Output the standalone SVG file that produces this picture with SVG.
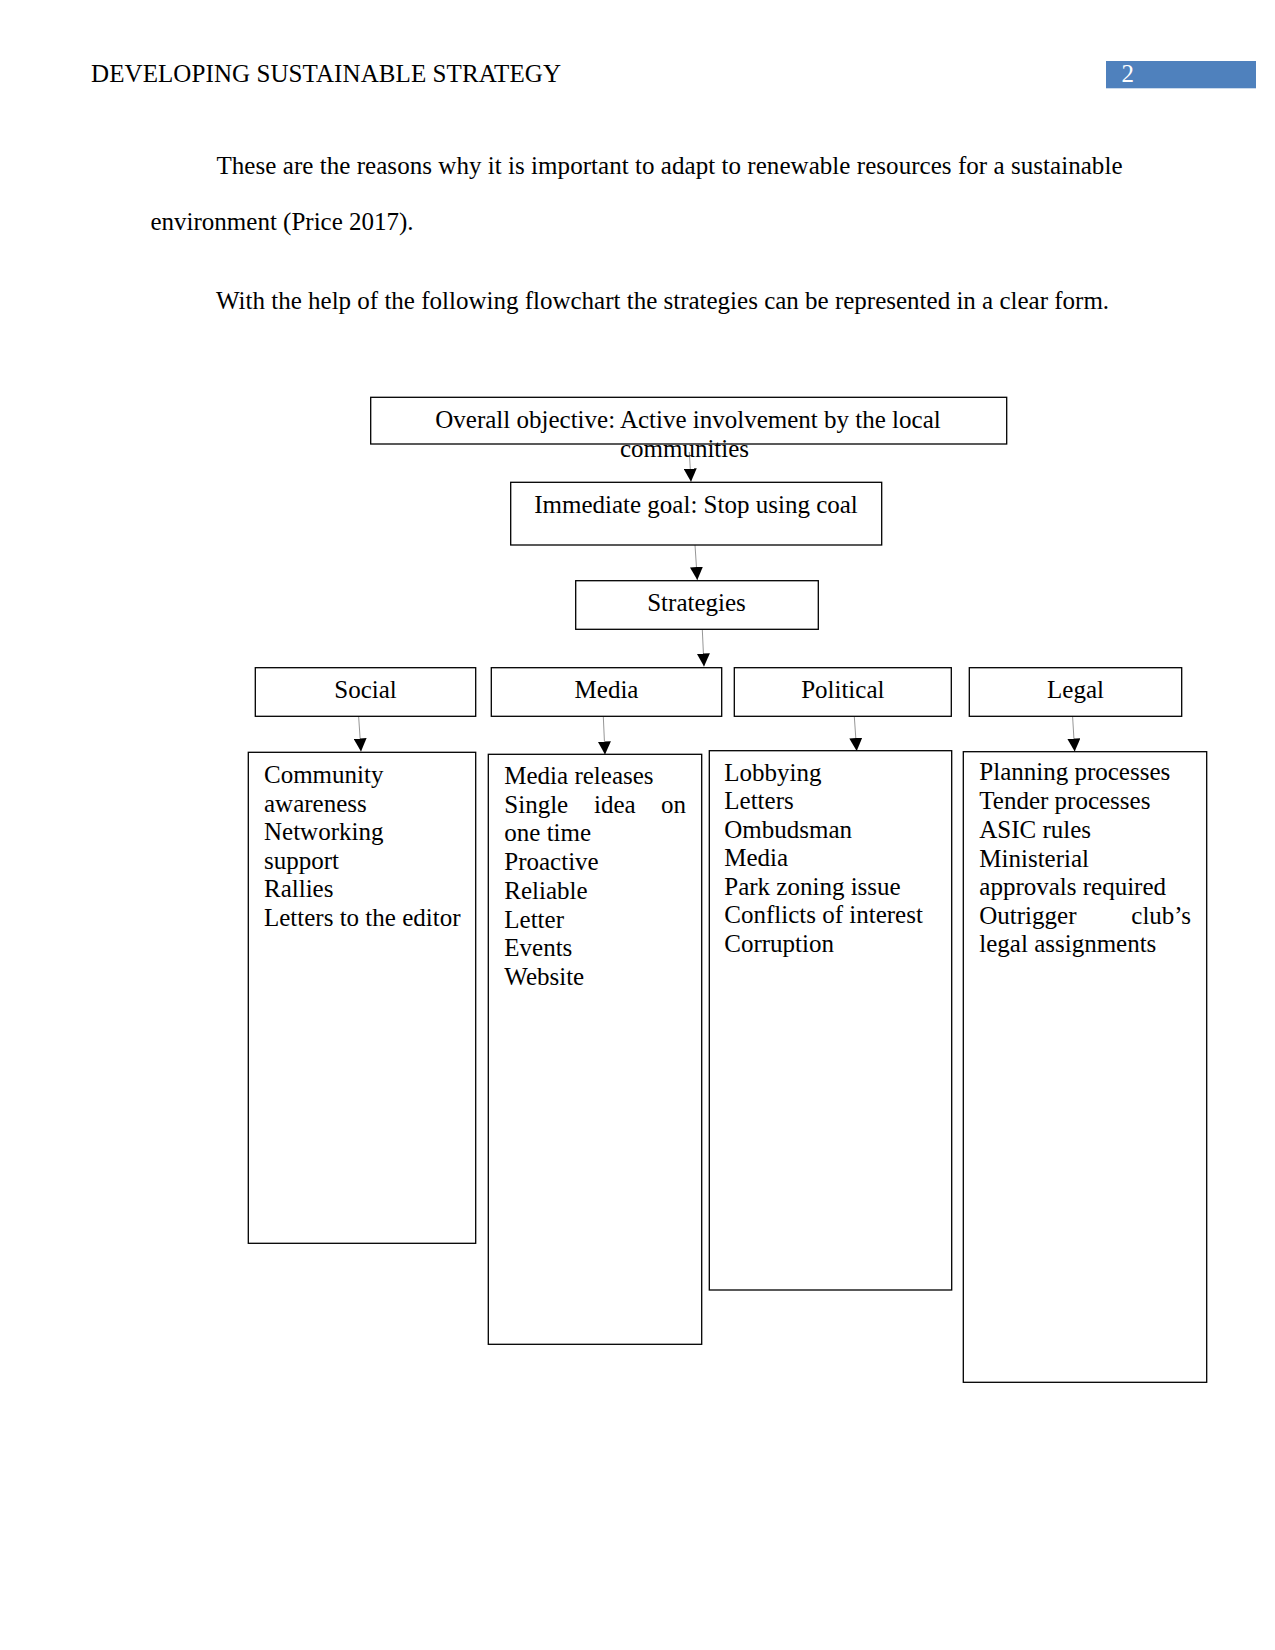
<svg xmlns="http://www.w3.org/2000/svg" width="1275" height="1650" viewBox="0 0 1275 1650">
<style>
text{font-family:"Liberation Serif","Times New Roman",serif;font-size:25px;fill:#000}
.box{fill:#fff;stroke:#000;stroke-width:1.3}
.c{text-anchor:middle}
.e{text-anchor:end}
.conn line{stroke:#8a8a8a;stroke-width:0.9;marker-end:url(#ah)}
</style>
<defs>
<marker id="ah" markerUnits="userSpaceOnUse" markerWidth="13" markerHeight="13" viewBox="0 0 12 12" refX="12" refY="6" orient="auto">
<path d="M0,0 L12,6 L0,12 z" fill="#000"/>
</marker>
</defs>
<rect width="1275" height="1650" fill="#fff"/>
<g id="header">
<text x="91" y="82" textLength="470" lengthAdjust="spacing">DEVELOPING SUSTAINABLE STRATEGY</text>
<rect x="1106" y="61" width="150" height="27.3" fill="#4f81bd"/>
<text x="1121.5" y="82" style="fill:#fff">2</text>
</g>
<g id="body">
<text x="216.5" y="173.5" textLength="906" lengthAdjust="spacing">These are the reasons why it is important to adapt to renewable resources for a sustainable</text>
<text x="150.5" y="230">environment (Price 2017).</text>
<text x="216" y="309">With the help of the following flowchart the strategies can be represented in a clear form.</text>
</g>
<g class="conn" id="connectors">
<line x1="689.3" y1="452" x2="691" y2="481.7"/>
<line x1="695" y1="545" x2="697.3" y2="580"/>
<line x1="702.3" y1="629.5" x2="704" y2="666.5"/>
<line x1="358.3" y1="711.7" x2="361" y2="751.5"/>
<line x1="603.3" y1="716.5" x2="605" y2="754.5"/>
<line x1="854.3" y1="716.5" x2="856.7" y2="751"/>
<line x1="1072.3" y1="711.7" x2="1074.7" y2="751.5"/>
</g>
<g id="overall">
<rect class="box" x="370.7" y="397.3" width="636" height="46.7"/>
<text class="c" x="688" y="428.3">Overall objective: Active involvement by the local</text>
<text class="c" x="684.5" y="457.3">communities</text>
</g>
<g id="immediate">
<rect class="box" x="510.7" y="482.3" width="371" height="62.7"/>
<text class="c" x="696" y="512.5">Immediate goal: Stop using coal</text>
</g>
<g id="strategies">
<rect class="box" x="575.7" y="580.7" width="242.6" height="48.6"/>
<text class="c" x="696.5" y="610.7">Strategies</text>
</g>
<g id="social">
<rect class="box" x="255.3" y="667.7" width="220.4" height="48.6"/>
<text class="c" x="365.5" y="697.7">Social</text>
</g>
<g id="media">
<rect class="box" x="491.3" y="667.7" width="230.4" height="48.6"/>
<text class="c" x="606.5" y="697.7">Media</text>
</g>
<g id="political">
<rect class="box" x="734.3" y="667.7" width="217" height="48.6"/>
<text class="c" x="842.8" y="697.7">Political</text>
</g>
<g id="legal">
<rect class="box" x="969.3" y="667.7" width="212.4" height="48.6"/>
<text class="c" x="1075.5" y="697.7">Legal</text>
</g>
<g id="social-items">
<rect class="box" x="248.3" y="752.3" width="227.4" height="491"/>
<text x="264" y="783.3">Community</text>
<text x="264" y="811.7">awareness</text>
<text x="264" y="840.3">Networking</text>
<text x="264" y="868.5">support</text>
<text x="264" y="897.3">Rallies</text>
<text x="264" y="925.7">Letters to the editor</text>
</g>
<g id="media-items">
<rect class="box" x="488.3" y="754.3" width="213.4" height="590"/>
<text x="504.3" y="784.3">Media releases</text>
<text x="504.3" y="812.7">Single</text>
<text x="594" y="812.7">idea</text>
<text class="e" x="686" y="812.7">on</text>
<text x="504.3" y="841">one time</text>
<text x="504.3" y="870">Proactive</text>
<text x="504.3" y="899">Reliable</text>
<text x="504.3" y="927.7">Letter</text>
<text x="504.3" y="956">Events</text>
<text x="504.3" y="985">Website</text>
</g>
<g id="political-items">
<rect class="box" x="709.3" y="750.7" width="242.4" height="539.3"/>
<text x="724.3" y="780.5">Lobbying</text>
<text x="724.3" y="809.3">Letters</text>
<text x="724.3" y="837.7">Ombudsman</text>
<text x="724.3" y="866">Media</text>
<text x="724.3" y="895">Park zoning issue</text>
<text x="724.3" y="923.3">Conflicts of interest</text>
<text x="724.3" y="951.7">Corruption</text>
</g>
<g id="legal-items">
<rect class="box" x="963.3" y="751.7" width="243.4" height="630.6"/>
<text x="979.3" y="780.3">Planning processes</text>
<text x="979.3" y="809">Tender processes</text>
<text x="979.3" y="837.7">ASIC rules</text>
<text x="979.3" y="866.7">Ministerial</text>
<text x="979.3" y="895">approvals required</text>
<text x="979.3" y="923.7">Outrigger</text>
<text class="e" x="1191" y="923.7">club’s</text>
<text x="979.3" y="951.7">legal assignments</text>
</g>
</svg>
